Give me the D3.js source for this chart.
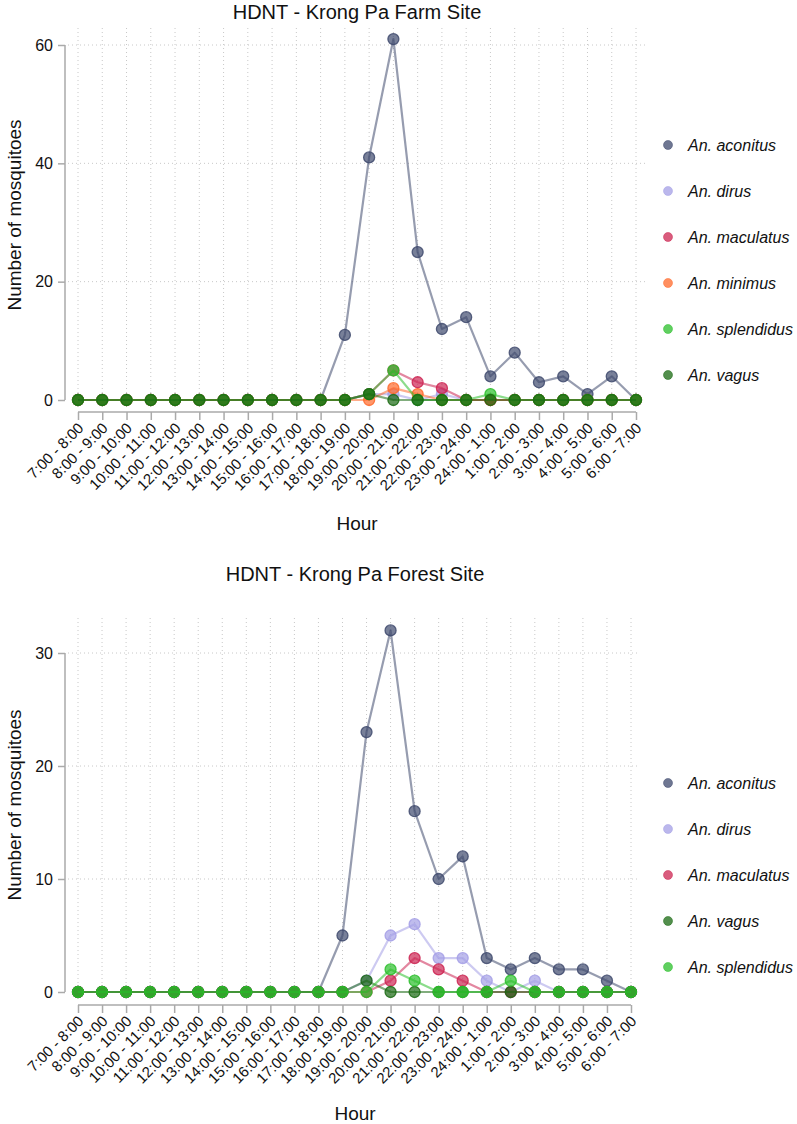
<!DOCTYPE html>
<html><head><meta charset="utf-8">
<script src="https://cdn.jsdelivr.net/npm/d3@7"></script>
<style>
body{margin:0;background:#fff;}
text{font-family:"Liberation Sans",Arial,Helvetica,sans-serif;fill:#111;}
</style></head>
<body><svg id="c" width="797" height="1124"></svg>
<script>
const hours = ["7:00 - 8:00","8:00 - 9:00","9:00 - 10:00","10:00 - 11:00","11:00 - 12:00","12:00 - 13:00","13:00 - 14:00","14:00 - 15:00","15:00 - 16:00","16:00 - 17:00","17:00 - 18:00","18:00 - 19:00","19:00 - 20:00","20:00 - 21:00","21:00 - 22:00","22:00 - 23:00","23:00 - 24:00","24:00 - 1:00","1:00 - 2:00","2:00 - 3:00","3:00 - 4:00","4:00 - 5:00","5:00 - 6:00","6:00 - 7:00"];

// Farm site
const farmAconitus    = [0,0,0,0,0,0,0,0,0,0,0,11,41,61,25,12,14,4,8,3,4,1,4,0];
const farmDirus       = [0,0,0,0,0,0,0,0,0,0,0,0,1,1,0,1,0,0,0,0,0,0,0,0];
const farmMaculatus   = [0,0,0,0,0,0,0,0,0,0,0,0,1,5,3,2,0,0,0,0,0,0,0,0];
const farmMinimus     = [0,0,0,0,0,0,0,0,0,0,0,0,0,2,1,0,0,0,0,0,0,0,0,0];
const farmSplendidus  = [0,0,0,0,0,0,0,0,0,0,0,0,1,5,0,0,0,1,0,0,0,0,0,0];
const farmVagus       = [0,0,0,0,0,0,0,0,0,0,0,0,1,0,0,0,0,0,0,0,0,0,0,0];

// Forest site
const forestAconitus   = [0,0,0,0,0,0,0,0,0,0,0,5,23,32,16,10,12,3,2,3,2,2,1,0];
const forestDirus      = [0,0,0,0,0,0,0,0,0,0,0,0,1,5,6,3,3,1,0,1,0,0,0,0];
const forestMaculatus  = [0,0,0,0,0,0,0,0,0,0,0,0,0,1,3,2,1,0,0,0,0,0,0,0];
const forestVagus      = [0,0,0,0,0,0,0,0,0,0,0,0,1,0,0,0,0,0,0,0,0,0,0,0];
const forestSplendidus = [0,0,0,0,0,0,0,0,0,0,0,0,0,2,1,0,0,0,1,0,0,0,0,0];

const farmYTicks = [0,20,40,60];
const forestYTicks = [0,10,20,30];

const colors = {
  "An. aconitus":"#3f4a6d",
  "An. dirus":"#a49fe6",
  "An. maculatus":"#cc2552",
  "An. minimus":"#ff6a2b",
  "An. splendidus":"#2bbf2b",
  "An. vagus":"#1a6a12"
};

const farmSeries = [
  ["An. aconitus", farmAconitus],
  ["An. dirus", farmDirus],
  ["An. maculatus", farmMaculatus],
  ["An. minimus", farmMinimus],
  ["An. splendidus", farmSplendidus],
  ["An. vagus", farmVagus]
];
const forestSeries = [
  ["An. aconitus", forestAconitus],
  ["An. dirus", forestDirus],
  ["An. maculatus", forestMaculatus],
  ["An. vagus", forestVagus],
  ["An. splendidus", forestSplendidus]
];

const svg = d3.select("#c");

function drawChart(cfg){
  const g = svg.append("g");
  const x = d3.scalePoint().domain(hours).range([cfg.x0, cfg.x1]);
  const y = d3.scaleLinear().domain([0, cfg.ymax]).range([cfg.y0, cfg.y1]);

  // grid
  g.append("g").selectAll("line").data(hours).join("line")
    .attr("x1", d=>x(d)).attr("x2", d=>x(d))
    .attr("y1", cfg.gridTop).attr("y2", cfg.y0 + 6)
    .attr("stroke","#c8c8c8").attr("stroke-width",1).attr("stroke-dasharray","1,3");
  g.append("g").selectAll("line").data(cfg.yticks.filter(v=>v>0)).join("line")
    .attr("x1", cfg.axisX + 3).attr("x2", cfg.x1 + 9)
    .attr("y1", d=>y(d)).attr("y2", d=>y(d))
    .attr("stroke","#c8c8c8").attr("stroke-width",1).attr("stroke-dasharray","1,3");

  // y axis
  const ya = g.append("g").attr("transform",`translate(${cfg.axisX},0)`)
    .call(d3.axisLeft(y).tickValues(cfg.yticks).tickSize(7).tickPadding(5));
  ya.select(".domain").attr("stroke","#aaa").attr("stroke-width",1.5).attr("d",`M0,${y(0)}V${y(cfg.ymax)}`);
  ya.selectAll(".tick line").attr("stroke","#aaa").attr("stroke-width",1.5);
  ya.selectAll(".tick text").attr("font-size",16).attr("fill","#111")
    .style("font-family","'Liberation Sans',Arial,sans-serif");

  // x axis
  const xa = g.append("g").attr("transform",`translate(0,${cfg.axisY})`)
    .call(d3.axisBottom(x).tickSize(8).tickPadding(2));
  xa.select(".domain").attr("stroke","#aaa").attr("stroke-width",1.5).attr("d",`M${cfg.x0},0H${cfg.x1}`);
  xa.selectAll(".tick line").attr("stroke","#aaa").attr("stroke-width",1.5);
  xa.selectAll(".tick text").attr("font-size",15).attr("fill","#111")
    .style("font-family","'Liberation Sans',Arial,sans-serif")
    .attr("text-anchor","end").attr("dy",0).attr("y",0)
    .attr("transform","translate(6,17) rotate(-45)");

  // lines + points
  const line = d3.line().x((d,i)=>x(hours[i])).y(d=>y(d));
  cfg.series.forEach(([name, vals])=>{
    const c = colors[name];
    g.append("path").datum(vals).attr("d", line)
      .attr("fill","none").attr("stroke", c).attr("stroke-width",2.2)
      .attr("stroke-opacity",0.55).attr("stroke-linejoin","round");
    g.append("g").selectAll("circle").data(vals).join("circle")
      .attr("cx",(d,i)=>x(hours[i])).attr("cy", d=>y(d)).attr("r",5.5)
      .attr("fill", c).attr("fill-opacity",0.7)
      .attr("stroke", c).attr("stroke-width",1.3).attr("stroke-opacity",0.85);
  });

  // titles
  g.append("text").attr("x", cfg.titleX).attr("y", cfg.titleY)
    .attr("text-anchor","middle").attr("font-size",20).text(cfg.title);
  g.append("text").attr("x", cfg.titleX).attr("y", cfg.hourY)
    .attr("text-anchor","middle").attr("font-size",19).text("Hour");
  g.append("text").attr("transform",`translate(21,${cfg.ylabY}) rotate(-90)`)
    .attr("text-anchor","middle").attr("font-size",19).text("Number of mosquitoes");

  // legend
  const lg = g.append("g");
  cfg.series.forEach(([name], i)=>{
    const yy = cfg.legY + i*46;
    lg.append("circle").attr("cx", 668).attr("cy", yy).attr("r",4.5)
      .attr("fill", colors[name]).attr("fill-opacity",0.75)
      .attr("stroke",colors[name]).attr("stroke-opacity",0.5);
    lg.append("text").attr("x",688).attr("y",yy+5.5).attr("font-size",16)
      .attr("font-style","italic").text(name);
  });
}

drawChart({series:farmSeries, x0:78, x1:636, y0:400, y1:45, ymax:60, yticks:farmYTicks,
  axisX:65, axisY:412, gridTop:28, title:"HDNT - Krong Pa Farm Site", titleX:357, titleY:19,
  hourY:530, ylabY:215, legY:145});
drawChart({series:forestSeries, x0:78, x1:631, y0:992, y1:653, ymax:30, yticks:forestYTicks,
  axisX:65, axisY:1005, gridTop:618, title:"HDNT - Krong Pa Forest Site", titleX:355, titleY:581,
  hourY:1120, ylabY:805, legY:783});
</script></body></html>
